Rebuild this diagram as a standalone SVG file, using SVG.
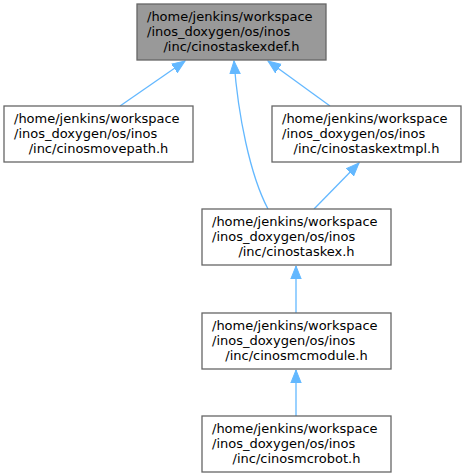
<svg xmlns="http://www.w3.org/2000/svg" width="463" height="476" viewBox="0 0 463 476">
<style>
.box{fill:#ffffff;stroke:#666666;stroke-width:1.3}
.root{fill:#999999;stroke:#666666;stroke-width:1.3}
text{font-family:"DejaVu Sans",sans-serif;font-size:13px;fill:#000000}
.e{fill:none;stroke:#63b8ff;stroke-width:1.3}
</style>
<defs>
<marker id="ah" markerUnits="userSpaceOnUse" markerWidth="14" markerHeight="12" refX="13" refY="6" orient="auto">
<path d="M0,0.8 L13,6 L0,11.2 Z" fill="#63b8ff" stroke="#63b8ff" stroke-width="1"/>
</marker>
</defs>
<g id="connectors">
<path class="e" d="M120,106 L185,61" marker-end="url(#ah)"/>
<path class="e" d="M268,209 C250,175 238,115 234,61" marker-end="url(#ah)"/>
<path class="e" d="M330,106 L268,61" marker-end="url(#ah)"/>
<path class="e" d="M314,209 L359,163" marker-end="url(#ah)"/>
<path class="e" d="M296,313 L296,266" marker-end="url(#ah)"/>
<path class="e" d="M296,416 L296,370" marker-end="url(#ah)"/>
</g>
<g id="node1">
<rect class="root" x="137" y="4" width="189" height="56"/>
<text x="147" y="21">/home/jenkins/workspace</text>
<text x="147" y="36">/inos_doxygen/os/inos</text>
<text x="231.5" y="51" text-anchor="middle">/inc/cinostaskexdef.h</text>
</g>
<g id="node2">
<rect class="box" x="4" y="106" width="189" height="56"/>
<text x="14" y="123">/home/jenkins/workspace</text>
<text x="14" y="138">/inos_doxygen/os/inos</text>
<text x="98.5" y="153" text-anchor="middle">/inc/cinosmovepath.h</text>
</g>
<g id="node3">
<rect class="box" x="272" y="106" width="189" height="56"/>
<text x="282" y="123">/home/jenkins/workspace</text>
<text x="282" y="138">/inos_doxygen/os/inos</text>
<text x="366.5" y="153" text-anchor="middle">/inc/cinostaskextmpl.h</text>
</g>
<g id="node4">
<rect class="box" x="202" y="209" width="189" height="56"/>
<text x="212" y="226">/home/jenkins/workspace</text>
<text x="212" y="241">/inos_doxygen/os/inos</text>
<text x="296.5" y="256" text-anchor="middle">/inc/cinostaskex.h</text>
</g>
<g id="node5">
<rect class="box" x="202" y="313" width="189" height="56"/>
<text x="212" y="330">/home/jenkins/workspace</text>
<text x="212" y="345">/inos_doxygen/os/inos</text>
<text x="296.5" y="360" text-anchor="middle">/inc/cinosmcmodule.h</text>
</g>
<g id="node6">
<rect class="box" x="202" y="416" width="189" height="56"/>
<text x="212" y="433">/home/jenkins/workspace</text>
<text x="212" y="448">/inos_doxygen/os/inos</text>
<text x="296.5" y="463" text-anchor="middle">/inc/cinosmcrobot.h</text>
</g>
</svg>
